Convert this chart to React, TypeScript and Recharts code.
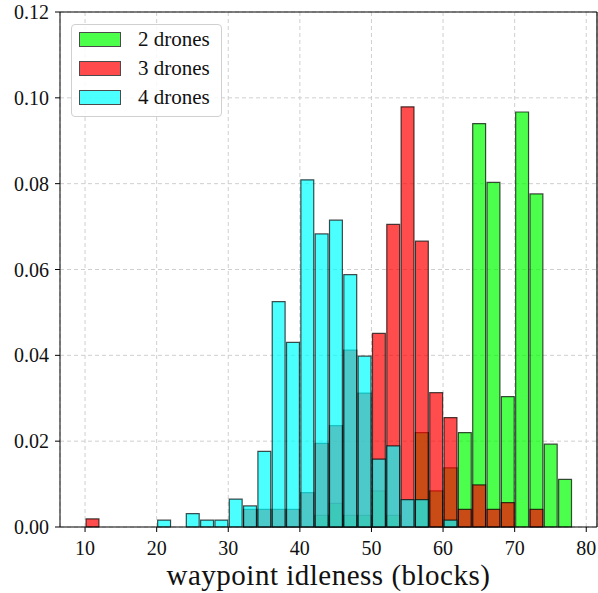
import React from 'react';
import { ComposedChart, Bar, XAxis, YAxis, CartesianGrid, ReferenceLine } from 'recharts';

// histogram bins, 2 blocks wide (left edges)
const binStarts = [10, 12, 14, 16, 18, 20, 22, 24, 26, 28, 30, 32, 34, 36, 38, 40, 42, 44, 46, 48, 50, 52, 54, 56, 58, 60, 62, 64, 66, 68, 70, 72, 74, 76, 78];

const twoDrones = [0, 0, 0, 0, 0, 0, 0, 0, 0, 0, 0, 0, 0, 0, 0, 0, 0.0027, 0.0055, 0.0027, 0.0027, 0.0084, 0.0027, 0, 0.022, 0.0084, 0.0138, 0.022, 0.094, 0.0803, 0.0304, 0.0967, 0.0776, 0.0193, 0.0111, 0];
const threeDrones = [0.0019, 0, 0, 0, 0, 0, 0, 0, 0, 0, 0, 0.0041, 0.0041, 0.0041, 0.0041, 0.008, 0.0195, 0.0236, 0.0412, 0.0312, 0.0451, 0.0705, 0.0979, 0.0666, 0.0313, 0.0255, 0.0041, 0.0098, 0.0041, 0.0057, 0, 0.0041, 0, 0, 0];
const fourDrones = [0, 0, 0, 0, 0, 0.0016, 0, 0.0031, 0.0016, 0.0016, 0.0065, 0.0049, 0.0176, 0.0525, 0.043, 0.0809, 0.0683, 0.0715, 0.0588, 0.0398, 0.0158, 0.0189, 0.0064, 0.0064, 0, 0.0016, 0, 0, 0, 0, 0, 0, 0, 0, 0];

const xTicks = [10, 20, 30, 40, 50, 60, 70, 80];
const yTicks = [0, 0.02, 0.04, 0.06, 0.08, 0.1, 0.12];

const binWidth = 2;
const xDomain: [number, number] = [6.5, 81.5];

const series = [
  { key: 'd2', name: '2 drones', color: '#00ff00', axis: 'g' },
  { key: 'd3', name: '3 drones', color: '#ff0000', axis: 'r' },
  { key: 'd4', name: '4 drones', color: '#00ffff', axis: 'c' },
];

const data = binStarts.map((s, i) => ({
  x: s + binWidth / 2,
  d2: twoDrones[i],
  d3: threeDrones[i],
  d4: fourDrones[i],
}));

const W = 598;
const H = 593;
const margin = { top: 12, right: 1, left: 0, bottom: 0 };
const yAxisWidth = 60;
const xAxisHeight = 66;
const plotWidth = W - margin.left - margin.right - yAxisWidth;
const barSize = (plotWidth / (xDomain[1] - xDomain[0])) * binWidth;

const font = '"Liberation Serif", "DejaVu Serif", serif';

const Legend = () => (
  <div
    style={{
      position: 'absolute',
      left: 71,
      top: 24,
      width: 151,
      height: 93,
      border: '1px solid #d0d0d0',
      borderRadius: 4,
      background: 'rgba(255,255,255,0.85)',
      boxSizing: 'border-box',
      fontFamily: font,
      fontSize: 21,
      color: '#111',
    }}
  >
    {series.map((s, i) => (
      <div key={s.key} style={{ position: 'absolute', left: 7, top: 7 + i * 29, height: 15, display: 'flex', alignItems: 'center' }}>
        <div
          style={{
            width: 42,
            height: 15,
            background: s.color,
            opacity: 0.7,
            border: '1.2px solid #000',
            boxSizing: 'border-box',
          }}
        />
        <span style={{ marginLeft: 17, lineHeight: '15px', whiteSpace: 'nowrap' }}>{s.name}</span>
      </div>
    ))}
  </div>
);

export default function App() {
  return (
    <div style={{ position: 'absolute', left: 0, top: 0, width: W, height: H, background: '#fff', fontFamily: font }}>
      <ComposedChart width={W} height={H} data={data} margin={margin}>
        <CartesianGrid xAxisId="g" stroke="#cfcfcf" strokeDasharray="4 3" />
        <XAxis
          xAxisId="g"
          dataKey="x"
          type="number"
          domain={xDomain}
          ticks={xTicks}
          allowDataOverflow
          height={xAxisHeight}
          stroke="#000"
          tickSize={5}
          tickMargin={9}
          tick={{ fill: '#111', fontSize: 20, fontFamily: font }}
          label={{
            value: 'waypoint idleness (blocks)',
            position: 'insideBottom',
            offset: 8,
            fill: '#111',
            fontSize: 29,
            fontFamily: font,
            style: { letterSpacing: '0.5px' },
          }}
        />
        <XAxis xAxisId="r" dataKey="x" type="number" domain={xDomain} allowDataOverflow height={0} hide />
        <XAxis xAxisId="c" dataKey="x" type="number" domain={xDomain} allowDataOverflow height={0} hide />
        <YAxis
          type="number"
          domain={[0, 0.12]}
          ticks={yTicks}
          width={yAxisWidth}
          stroke="#000"
          tickSize={5}
          tickMargin={6}
          tickFormatter={(v: number) => v.toFixed(2)}
          tick={{ fill: '#111', fontSize: 20, fontFamily: font }}
        />
        {series.map((s) => (
          <Bar
            key={s.key}
            xAxisId={s.axis}
            dataKey={s.key}
            name={s.name}
            fill={s.color}
            fillOpacity={0.7}
            stroke="#000"
            strokeOpacity={0.7}
            strokeWidth={1.2}
            barSize={barSize}
            isAnimationActive={false}
          />
        ))}
        <ReferenceLine xAxisId="g" y={0.12} stroke="#000" strokeWidth={1.2} />
        <ReferenceLine xAxisId="g" x={xDomain[1]} stroke="#000" strokeWidth={1.2} />
      </ComposedChart>
      <Legend />
    </div>
  );
}
